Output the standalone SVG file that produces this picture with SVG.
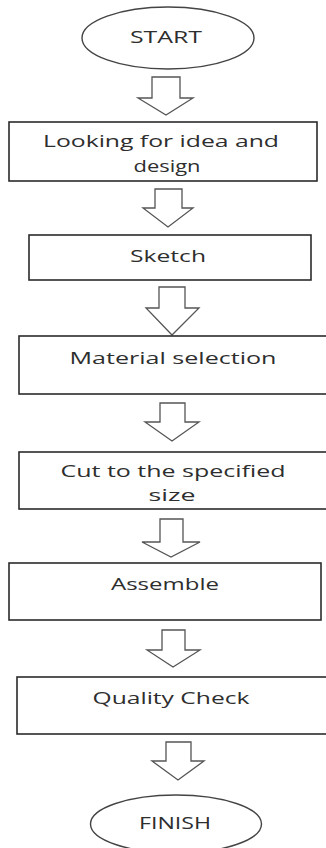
<svg xmlns="http://www.w3.org/2000/svg" width="326" height="848" viewBox="0 0 326 848">
<style>
.box{fill:#fff;stroke:#2b2b2b;stroke-width:1.6}
.term{fill:#fff;stroke:#444;stroke-width:1.4}
.arr{fill:#fff;stroke:#555;stroke-width:1.3;stroke-linejoin:miter}
.lbl{font-family:"Open Sans","Liberation Sans",sans-serif;font-size:17px;fill:#2e2e2e;text-anchor:middle}
</style>
<rect width="326" height="848" fill="#fff"/>
<g id="connectors">
<path class="arr" d="M152,77 H180 V98 H193 L166,115 L138,98 H152 Z"/>
<path class="arr" d="M155,189 H182 V208 H193 L168,227 L143,208 H155 Z"/>
<path class="arr" d="M159,287 H185 V308 H199 L172,335 L146,308 H159 Z"/>
<path class="arr" d="M160,403 H185 V422 H199 L172,441 L145,422 H160 Z"/>
<path class="arr" d="M160,519 H183 V542 H200 L171,557 L142,542 H160 Z"/>
<path class="arr" d="M162,630 H185 V650 H200 L173,667 L147,650 H162 Z"/>
<path class="arr" d="M166,742 H191 V761 H204 L178,780 L152,761 H166 Z"/>
</g>
<g id="start">
<ellipse class="term" cx="168" cy="38" rx="86" ry="31"/>
<text class="lbl" x="166" y="43" textLength="72" lengthAdjust="spacingAndGlyphs">START</text>
</g>
<g id="idea">
<rect class="box" x="9" y="122" width="308" height="59"/>
<text class="lbl" x="161" y="147" textLength="236" lengthAdjust="spacingAndGlyphs">Looking for idea and</text>
<text class="lbl" x="167" y="172" textLength="67" lengthAdjust="spacingAndGlyphs">design</text>
</g>
<g id="sketch">
<rect class="box" x="29" y="235" width="282" height="45"/>
<text class="lbl" x="168" y="262" textLength="76" lengthAdjust="spacingAndGlyphs">Sketch</text>
</g>
<g id="material">
<rect class="box" x="19" y="336" width="312" height="58"/>
<text class="lbl" x="173" y="364" textLength="207" lengthAdjust="spacingAndGlyphs">Material selection</text>
</g>
<g id="cut">
<rect class="box" x="19" y="452" width="312" height="57"/>
<text class="lbl" x="173" y="477" textLength="225" lengthAdjust="spacingAndGlyphs">Cut to the specified</text>
<text class="lbl" x="172" y="501" textLength="47" lengthAdjust="spacingAndGlyphs">size</text>
</g>
<g id="assemble">
<rect class="box" x="9" y="563" width="312" height="57"/>
<text class="lbl" x="165" y="590" textLength="108" lengthAdjust="spacingAndGlyphs">Assemble</text>
</g>
<g id="quality">
<rect class="box" x="17" y="677" width="314" height="57"/>
<text class="lbl" x="171" y="704" textLength="157" lengthAdjust="spacingAndGlyphs">Quality Check</text>
</g>
<g id="finish">
<ellipse class="term" cx="176" cy="824" rx="85.5" ry="29"/>
<text class="lbl" x="175" y="829" textLength="72" lengthAdjust="spacingAndGlyphs">FINISH</text>
</g>
</svg>
